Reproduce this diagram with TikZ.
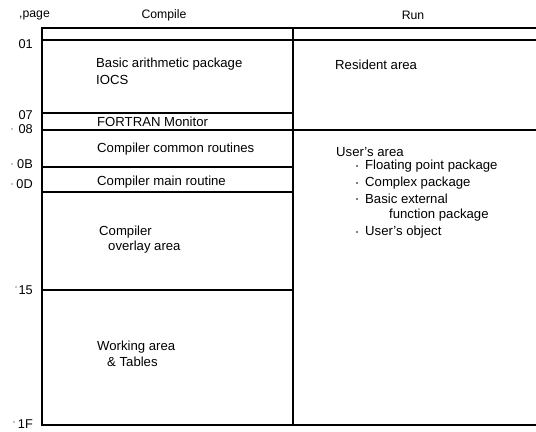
\documentclass[tikz,border=0pt]{standalone}
\usepackage{fontspec}
\setmainfont{Liberation Sans}
\begin{document}
\begin{tikzpicture}[x=1bp,y=-1bp,
  rule/.style={line width=1.6bp,black},
  txt/.style={anchor=west,inner sep=0pt,font=\fontsize{13.2}{15}\selectfont},
  pg/.style={anchor=east,inner sep=0pt,font=\fontsize{12.8}{14}\selectfont},
  head/.style={inner sep=0pt,font=\fontsize{12.3}{14}\selectfont}]
\useasboundingbox (0,0) rectangle (536,431);
% column frame
\draw[rule] (536,28) -- (42,28) -- (42,425) -- (536,425);
\draw[rule] (293,28) -- (293,425);
\draw[rule] (42,40) -- (536,40);
\draw[rule] (42,130) -- (536,130);
% compile-side partitions
\draw[rule] (42,113) -- (293,113);
\draw[rule] (42,167) -- (293,167);
\draw[rule] (42,192) -- (293,192);
\draw[rule] (42,290) -- (293,290);
% headings
\node[head,anchor=west] (hp) at (19,15) {,page};
\node[head] (hc) at (164,15) {Compile};
\node[head] (hr) at (413,15) {Run};
% page numbers
\node[pg] (p01) at (33,44) {01};
\node[pg] (p07) at (33,115) {07};
\node[pg] (p08) at (33,129) {08};
\node[pg] (p0B) at (33,164) {0B};
\node[pg] (p0D) at (33,184) {0D};
\node[pg] (p15) at (33,290) {15};
\node[pg] (p1F) at (33,424) {1F};
\fill (12,129) circle (0.7) (12,164) circle (0.7) (12,184) circle (0.7) (16,287) circle (0.7) (14,422) circle (0.7);
% compile column
\node[txt] (bap) at (96,64) {Basic arithmetic package};
\node[txt] (iocs) at (96,80) {IOCS};
\node[txt] (mon) at (97,122) {FORTRAN Monitor};
\node[txt] (ccr) at (97,149) {Compiler common routines};
\node[txt] (cmr) at (97,182) {Compiler main routine};
\node[txt] (co1) at (99,232) {Compiler};
\node[txt] (co2) at (108,247) {overlay area};
\node[txt] (wa1) at (97,347) {Working area};
\node[txt] (wa2) at (107,362) {\& Tables};
% run column
\node[txt] (res) at (335,65) {Resident area};
\node[txt] (ua) at (336,152) {User's area};
\node[txt] (u1) at (365,166) {Floating point package};
\node[txt] (u2) at (365,183) {Complex package};
\node[txt] (u3) at (365,199) {Basic external};
\node[txt] (u3b) at (389,215) {function package};
\node[txt] (u4) at (365,232) {User's object};
\foreach \n in {u1,u2,u3,u4} \fill ([xshift=-8bp]\n.west) circle (0.8);
\end{tikzpicture}
\end{document}
